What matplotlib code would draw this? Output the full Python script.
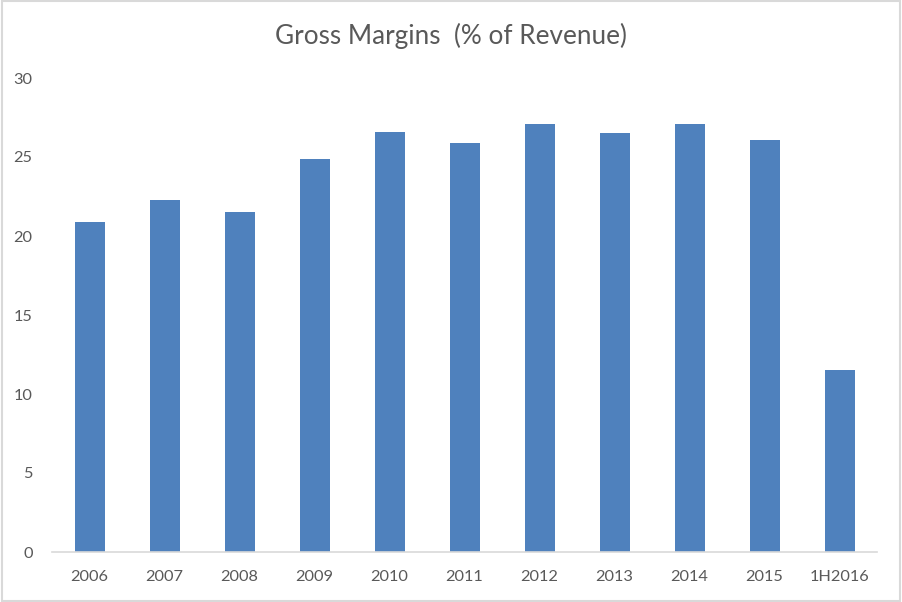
import matplotlib
matplotlib.use('Agg')
import matplotlib.pyplot as plt
from matplotlib.patches import Rectangle

# values
years = ['2006', '2007', '2008', '2009', '2010', '2011', '2012', '2013', '2014', '2015', '1H2016']
gross_margin = [20.9, 22.3, 21.5, 24.9, 26.6, 25.9, 27.1, 26.5, 27.1, 26.1, 11.5]
y_ticks = [0, 5, 10, 15, 20, 25, 30]

bar_color = '#4F81BD'
text_color = '#595959'
grey_line = '#D9D9D9'

plt.rcParams['font.family'] = ['Lato', 'DejaVu Sans']

fig = plt.figure(figsize=(9.02, 6.02), dpi=100)
ax = fig.add_axes([52 / 902, 1 - 552 / 602, 825 / 902, 474 / 602])

ax.bar(range(len(years)), gross_margin, width=0.4, color=bar_color)
ax.set_xlim(-0.5, len(years) - 0.5)
ax.set_ylim(0, 30)
ax.set_xticks(range(len(years)))
ax.set_xticklabels(years)
ax.set_yticks(y_ticks)

for side in ['top', 'right', 'left']:
    ax.spines[side].set_visible(False)
ax.spines['bottom'].set_color(grey_line)
ax.spines['bottom'].set_linewidth(1.2)
ax.tick_params(axis='both', length=0, labelsize=11.8, labelcolor=text_color)
ax.tick_params(axis='y', pad=14)
ax.tick_params(axis='x', pad=13)

fig.text(0.5, 1 - 36 / 602, 'Gross Margins  (% of Revenue)', ha='center', va='center',
         fontsize=18.8, color=text_color)

# chart border like a spreadsheet chart
fig.patches.append(Rectangle((0.002, 0.002), 0.996, 0.996, transform=fig.transFigure,
                             fill=False, edgecolor=grey_line, linewidth=1.5))

fig.savefig('out.png', dpi=100)
plt.close(fig)
